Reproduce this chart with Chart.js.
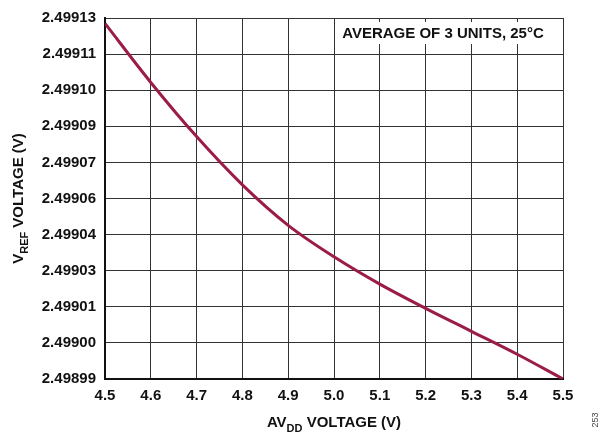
<!DOCTYPE html>
<html>
<head>
<meta charset="utf-8">
<script src="https://cdn.jsdelivr.net/npm/chart.js@4.4.1/dist/chart.umd.min.js"></script>
<style>
  html, body { margin: 0; padding: 0; background: #fff; }
  #wrap { width: 600px; height: 436px; position: relative; }
</style>
</head>
<body>
<div id="wrap"><canvas id="c" width="600" height="436"></canvas></div>
<script>
// -------- datos --------
const avddVoltage = [4.5, 4.6, 4.7, 4.8, 4.9, 5.0, 5.1, 5.2, 5.3, 5.4, 5.5];
const vrefVoltage = [2.4991279, 2.4991050, 2.4990840, 2.4990653, 2.4990496, 2.4990374,
                     2.4990268, 2.4990174, 2.4990085, 2.4989996, 2.4989900];

const xTickValues = [4.5, 4.6, 4.7, 4.8, 4.9, 5.0, 5.1, 5.2, 5.3, 5.4, 5.5];
const yTickValues = [2.498990, 2.499004, 2.499018, 2.499032, 2.499046, 2.499060,
                     2.499074, 2.499088, 2.499102, 2.499116, 2.499130];
const yTickLabels = ["2.49899", "2.49900", "2.49901", "2.49903", "2.49904", "2.49906",
                     "2.49907", "2.49909", "2.49910", "2.49911", "2.49913"];

const noteText = "AVERAGE OF 3 UNITS, 25°C";
const xTitle = [{ t: "AV" }, { t: "DD", sub: true }, { t: " VOLTAGE (V)" }];
const yTitle = [{ t: "V" }, { t: "REF", sub: true }, { t: " VOLTAGE (V)" }];
const figId = "253";

const FONT = "'Liberation Sans', Arial, Helvetica, sans-serif";

// texto con subíndices, centrado en (0,0) del contexto actual
function drawRich(ctx, parts, size) {
  const subSize = Math.round(size * 0.72);
  let total = 0;
  parts.forEach(p => {
    ctx.font = `bold ${p.sub ? subSize : size}px ${FONT}`;
    p.w = ctx.measureText(p.t).width;
    total += p.w;
  });
  let x = -total / 2;
  ctx.textAlign = "left";
  ctx.textBaseline = "alphabetic";
  parts.forEach(p => {
    ctx.font = `bold ${p.sub ? subSize : size}px ${FONT}`;
    ctx.fillText(p.t, x, p.sub ? size * 0.32 : 0);
    x += p.w;
  });
}

const decor = {
  id: "decor",
  afterDraw(chart) {
    const { ctx, chartArea: a } = chart;
    ctx.save();
    ctx.fillStyle = "#111";

    // título eje X
    ctx.save();
    ctx.translate((a.left + a.right) / 2, 427);
    drawRich(ctx, xTitle, 15);
    ctx.restore();

    // título eje Y
    ctx.save();
    ctx.translate(23, (a.top + a.bottom) / 2);
    ctx.rotate(-Math.PI / 2);
    drawRich(ctx, yTitle, 15);
    ctx.restore();

    // número de figura
    ctx.save();
    ctx.translate(598, 420);
    ctx.rotate(-Math.PI / 2);
    ctx.font = `9px ${FONT}`;
    ctx.fillStyle = "#444";
    ctx.textAlign = "center";
    ctx.fillText(figId, 0, 0);
    ctx.restore();

    ctx.restore();
  },
  beforeDatasetsDraw(chart) {
    // recuadro de la nota (tapa la rejilla)
    const { ctx, chartArea: a } = chart;
    ctx.save();
    ctx.font = `bold 15px ${FONT}`;
    const w = ctx.measureText(noteText).width;
    const cx = a.right - 120;
    ctx.fillStyle = "#fff";
    ctx.fillRect(cx - w / 2 - 4, a.top + 4, w + 8, 22);
    ctx.fillStyle = "#111";
    ctx.textAlign = "center";
    ctx.textBaseline = "middle";
    ctx.fillText(noteText, cx, a.top + 16);
    ctx.restore();
  }
};

new Chart(document.getElementById("c"), {
  type: "line",
  data: {
    datasets: [{
      data: avddVoltage.map((x, i) => ({ x, y: vrefVoltage[i] })),
      borderColor: "#9b1c45",
      borderWidth: 3,
      pointRadius: 0,
      cubicInterpolationMode: "monotone",
      fill: false
    }]
  },
  options: {
    responsive: false,
    animation: false,
    devicePixelRatio: 1,
    layout: { padding: { top: 12, right: 37, left: 0, bottom: 0 } },
    plugins: { legend: { display: false }, tooltip: { enabled: false } },
    scales: {
      x: {
        type: "linear",
        min: 4.5, max: 5.5,
        afterBuildTicks: s => { s.ticks = xTickValues.map(v => ({ value: v })); },
        afterFit: s => { s.height = 57; },
        ticks: {
          callback: v => v.toFixed(1),
          color: "#111",
          padding: 8,
          maxRotation: 0,
          font: { family: FONT, size: 15, weight: "bold" }
        },
        grid: { color: "#333", lineWidth: 1, drawTicks: false },
        border: { display: true, color: "#111", width: 2 }
      },
      y: {
        type: "linear",
        min: 2.49899, max: 2.49913,
        afterBuildTicks: s => { s.ticks = yTickValues.map(v => ({ value: v })); },
        afterFit: s => { s.width = 105; },
        ticks: {
          callback: (v, i) => yTickLabels[i],
          color: "#111",
          padding: 9,
          font: { family: FONT, size: 15, weight: "bold" }
        },
        grid: { color: "#333", lineWidth: 1, drawTicks: false },
        border: { display: true, color: "#111", width: 2 }
      }
    }
  },
  plugins: [decor]
});
</script>
</body>
</html>
